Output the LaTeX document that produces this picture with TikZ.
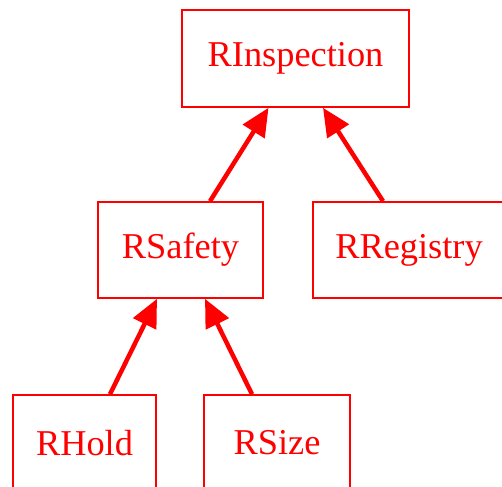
\documentclass[tikz,border=0pt]{standalone}
\usepackage{fontspec}
\setmainfont{Liberation Serif}
\usetikzlibrary{arrows.meta,calc}
\begin{document}
\begin{tikzpicture}[x=1bp,y=-1bp,
  box/.style={draw=red,line width=1.6bp,text=red,inner sep=0pt,
    font=\fontsize{36.5}{40}\selectfont,anchor=center},
  conn/.style={draw=red,line width=4.5bp,-{Triangle[length=28bp,width=25bp]}}]
\useasboundingbox (0,0) rectangle (502,487);
\clip (0,0) rectangle (502,487);
\node[box,minimum width=227bp,minimum height=97bp] (insp) at (295.5,58.5) {RInspection};
\node[box,minimum width=165bp,minimum height=96bp] (saf) at (180.5,250) {RSafety};
\node[box,minimum width=192bp,minimum height=96bp] (reg) at (409,250) {RRegistry};
\node[box,minimum width=143bp,minimum height=96bp] (hold) at (84.5,443) {RHold};
\node[box,minimum width=146bp,minimum height=96bp] (size) at (277,443) {RSize};
\draw[conn] ([xshift=29.5bp]saf.north) -- ([xshift=-27bp]insp.south);
\draw[conn] ([xshift=-26bp]reg.north) -- ([xshift=27.5bp]insp.south);
\draw[conn] ([xshift=25.5bp]hold.north) -- ([xshift=-23.5bp]saf.south);
\draw[conn] ([xshift=-25bp]size.north) -- ([xshift=24.5bp]saf.south);
\end{tikzpicture}
\end{document}
